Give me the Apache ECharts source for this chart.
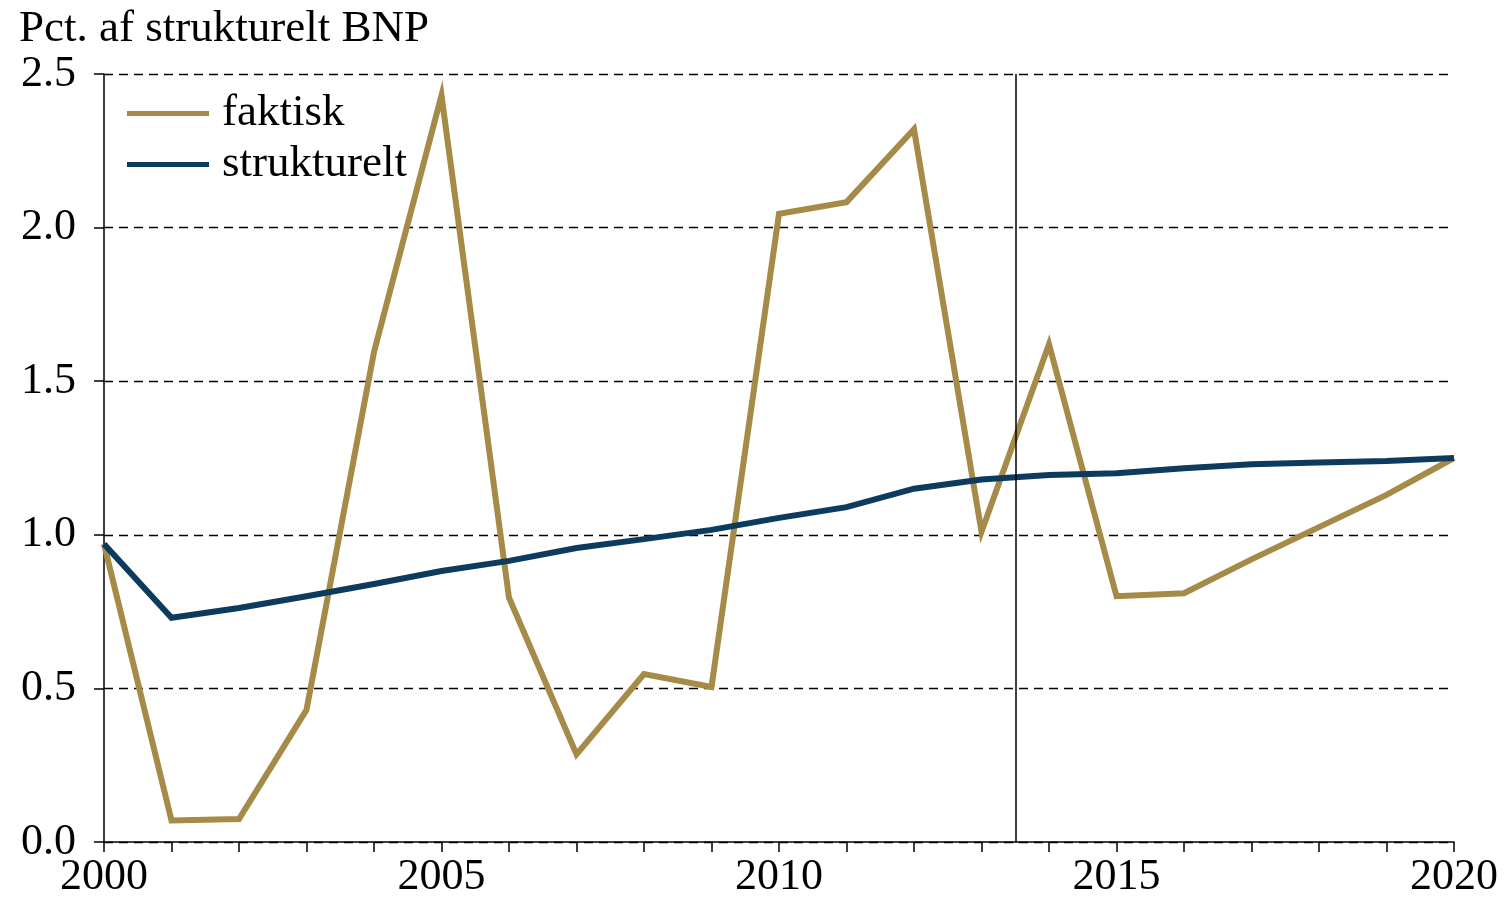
<!DOCTYPE html>
<html>
<head>
<meta charset="utf-8">
<script src="https://cdn.jsdelivr.net/npm/echarts@6/dist/echarts.min.js"></script>
<style>
    html, body { margin: 0; padding: 0; background: #fff; }
    #chart { width: 1509px; height: 903px; }
</style>
</head>
<body>
<div id="chart"></div>
<script>
let years = [];
for (let y = 2000; y <= 2020; y++) years.push(y);

// pct. af strukturelt BNP
let faktisk = [0.97, 0.07, 0.075, 0.43, 1.595, 2.43, 0.795, 0.285, 0.547, 0.505,
    2.045, 2.083, 2.32, 1.01, 1.62, 0.80, 0.81, 0.92, 1.025, 1.13, 1.25];
let strukturelt = [0.97, 0.73, 0.762, 0.80, 0.84, 0.882, 0.915, 0.957, 0.986, 1.016,
    1.055, 1.09, 1.15, 1.18, 1.195, 1.20, 1.217, 1.23, 1.235, 1.24, 1.25];

let font = 'Liberation Serif';

let option = {
    animation: false,
    backgroundColor: '#fff',
    title: {
        text: 'Pct. af strukturelt BNP',
        left: 14,
        top: 2,
        textStyle: { fontFamily: font, fontSize: 45, fontWeight: 'normal', color: '#000' }
    },
    legend: {
        orient: 'vertical',
        left: 122,
        top: 86,
        itemWidth: 82,
        itemHeight: 5,
        itemGap: 6,
        icon: 'rect',
        textStyle: { fontFamily: font, fontSize: 45, color: '#000', padding: [0, 0, 0, 8] },
        data: ['faktisk', 'strukturelt']
    },
    grid: {
        left: 104,
        right: 55,
        top: 74,
        bottom: 61
    },
    xAxis: {
        type: 'value',
        min: 2000,
        max: 2020,
        interval: 1,
        axisLine: { lineStyle: { color: '#000', width: 1.5 } },
        axisTick: { length: 10, lineStyle: { color: '#000', width: 1.5 } },
        axisLabel: {
            fontFamily: font, fontSize: 44, color: '#000', margin: 13,
            formatter: v => (v % 5 === 0 ? String(v) : '')
        },
        splitLine: { show: false }
    },
    yAxis: {
        type: 'value',
        min: 0,
        max: 2.5,
        interval: 0.5,
        axisLine: { show: true, lineStyle: { color: '#000', width: 1.5 } },
        axisTick: { show: true, length: 10, lineStyle: { color: '#000', width: 1.5 } },
        axisLabel: {
            fontFamily: font, fontSize: 44, color: '#000', margin: 28,
            formatter: v => v.toFixed(1)
        },
        splitLine: { lineStyle: { color: '#000', width: 1.4, type: [9, 6] } }
    },
    series: [
        {
            name: 'faktisk',
            type: 'line',
            data: years.map((y, i) => [y, faktisk[i]]),
            symbol: 'none',
            color: '#A68A47',
            lineStyle: { width: 6, color: '#A68A47', join: 'miter', miterLimit: 10 },
            z: 3,
            markLine: {
                silent: true,
                symbol: 'none',
                label: { show: false },
                lineStyle: { color: '#000', width: 1.5, type: 'solid' },
                data: [{ xAxis: 2013.5 }]
            }
        },
        {
            name: 'strukturelt',
            type: 'line',
            data: years.map((y, i) => [y, strukturelt[i]]),
            symbol: 'none',
            color: '#0D3B5E',
            lineStyle: { width: 6, color: '#0D3B5E', join: 'miter' },
            z: 4
        }
    ]
};

let myChart = echarts.init(document.getElementById('chart'));
myChart.setOption(option);
</script>
</body>
</html>
